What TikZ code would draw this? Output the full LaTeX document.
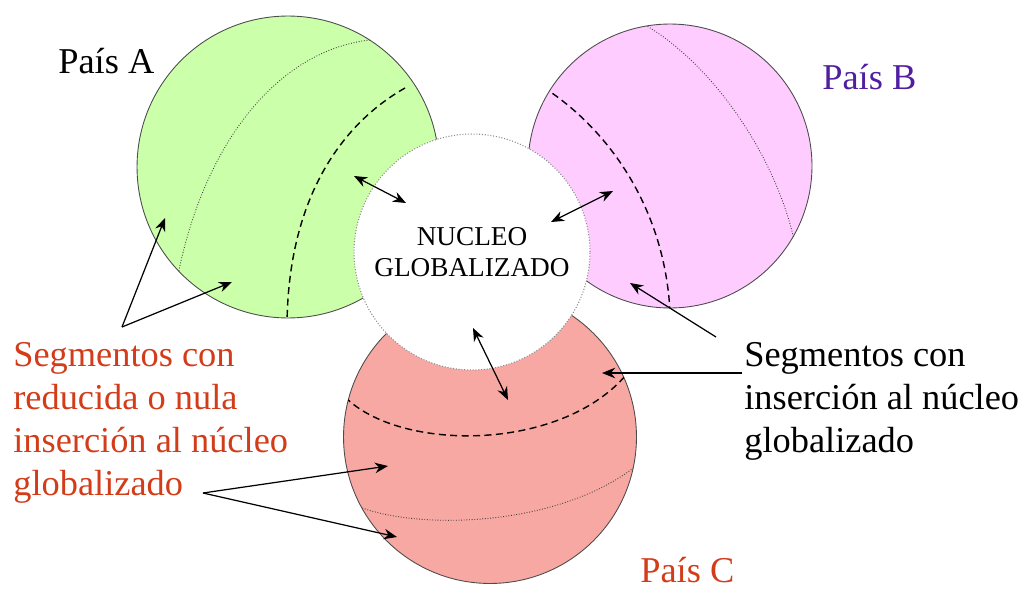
\documentclass[tikz,border=0pt]{standalone}
\usepackage{fontspec}
\setmainfont{Liberation Serif}
\usetikzlibrary{arrows.meta}
\definecolor{verdeA}{RGB}{204,255,170}
\definecolor{rosaB}{RGB}{255,204,255}
\definecolor{salmonC}{RGB}{248,168,162}
\definecolor{rojoTexto}{RGB}{210,60,25}
\definecolor{moradoB}{RGB}{80,30,160}
\tikzset{
  pais/.style={circle,draw=black!70,line width=0.5pt,inner sep=0pt},
  nucleo/.style={circle,draw=black!45,densely dotted,line width=0.6pt,fill=white,inner sep=0pt,align=center,font=\fontsize{15.5}{17.6}\selectfont},
  rotulo/.style={inner sep=0pt,font=\fontsize{20.7}{24.4}\selectfont},
  frontera/.style={densely dotted,line width=0.5pt,black!75},
  segmento/.style={line width=0.8pt,dash pattern=on 4pt off 2.5pt},
  flecha/.style={-{Stealth[length=7.5pt,width=6pt]},line width=0.7pt},
  doble/.style={{Stealth[length=7.5pt,width=6pt]}-{Stealth[length=7.5pt,width=6pt]},line width=0.7pt}
}
\begin{document}
\begin{tikzpicture}[x=0.02cm,y=-0.02cm]
\useasboundingbox (0,0) rectangle (1020,588);

% Countries
\node[pais,fill=verdeA,minimum size=6.04cm] (paisA) at (288,167) {};
\node[pais,fill=rosaB,minimum size=5.68cm] (paisB) at (670,166) {};
\node[pais,fill=salmonC,minimum size=5.86cm] (paisC) at (490,437) {};

% Segment borders
\begin{scope}
\clip (288,167) circle (151);
\draw[frontera] (370,40) .. controls (280,50) and (205,140) .. (178,275);
\draw[segmento] (405,88) .. controls (340,125) and (288,200) .. (287,325);
\end{scope}
\begin{scope}
\clip (670,166) circle (142);
\draw[segmento] (543,87) .. controls (610,130) and (665,210) .. (670,312);
\draw[frontera] (636,20) .. controls (705,55) and (775,150) .. (795,244);
\end{scope}
\begin{scope}
\clip (490,437) circle (146.5);
\draw[segmento] (345,397) .. controls (400,452) and (560,452) .. (626,375);
\draw[frontera] (355,505) .. controls (410,530) and (560,530) .. (641,462);
\end{scope}

% Core
\node[nucleo,minimum size=4.72cm] (nucleo) at (472,252) {NUCLEO\\GLOBALIZADO};

% Labels
\node[rotulo,anchor=base west] (txtA) at (58,73) {País A};
\node[rotulo,anchor=base west,text=moradoB] (txtB) at (822,90) {País B};
\node[rotulo,anchor=base west,text=rojoTexto] (txtC) at (640,582) {País C};
\node[rotulo,anchor=north west,align=left,text=rojoTexto] (segIzq) at (13,342)
  {Segmentos con\\reducida o nula\\inserción al núcleo\\globalizado};
\node[rotulo,anchor=north west,align=left] (segDer) at (744,342)
  {Segmentos con\\inserción al núcleo\\globalizado};

% Links with the core
\coordinate (enA) at (354,176); \coordinate (nuA) at (406,203);
\coordinate (enB) at (613,191); \coordinate (nuB) at (551,222);
\coordinate (enC) at (508,400); \coordinate (nuC) at (473,328);
\draw[doble] (enA) -- (nuA);
\draw[doble] (enB) -- (nuB);
\draw[doble] (enC) -- (nuC);

% Pointers from the labels
\coordinate (vIzqA) at (122,327);
\coordinate (vIzqC) at (203,493);
\coordinate (vDerB) at (716,337);
\coordinate (vDerC) at (742,373);
\draw[flecha] (vIzqA) -- (165,218);
\draw[flecha] (vIzqA) -- (232,282);
\draw[flecha] (vIzqC) -- (388,466);
\draw[flecha] (vIzqC) -- (397,537);
\draw[flecha] (vDerB) -- (630,283);
\draw[flecha] (vDerC) -- (602,373);
\end{tikzpicture}
\end{document}
